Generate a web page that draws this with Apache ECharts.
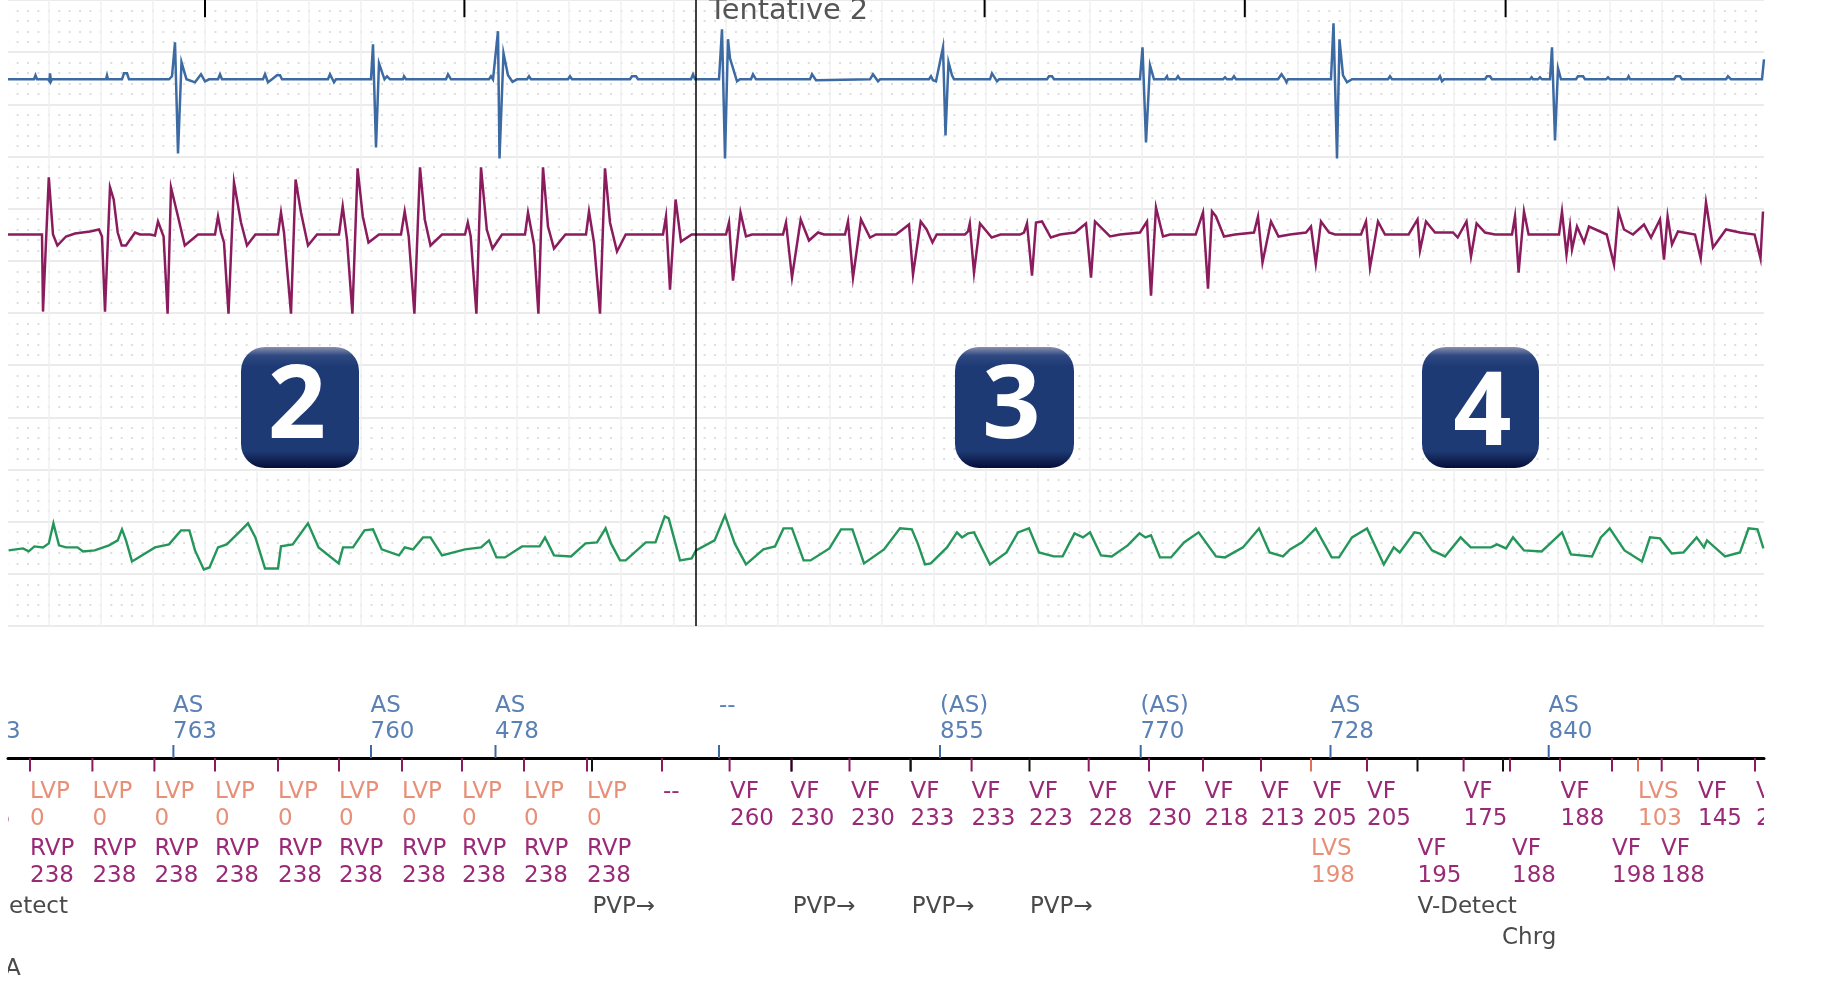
<!DOCTYPE html>
<html><head><meta charset="utf-8">
<style>html,body{margin:0;padding:0;background:#fff}#c{width:1827px;height:1007px;filter:blur(0.6px)}</style>
<script src="https://cdn.jsdelivr.net/npm/echarts@6/dist/echarts.min.js"></script></head>
<body><div id="c"></div>
<script>
// Traces: [time position, amplitude above the channel baseline]
const blueTrace=[[8,0],[34,0],[35.5,4],[37,0],[48,0],[49.5,-2],[50,6],[51,-2],[52,0],[106,0],[107,4],[108,0],[122,0],[124,6],[127,6],[129,0],[169,0],[172,3],[175,37],[178,-74],[181.5,17],[186.5,0],[195,-3],[201,5],[205,-2],[209,0],[218,0],[220,5],[222,0],[263,0],[265,5],[268,-3],[272,0],[277,4],[280,4],[282,0],[328,0],[330,5],[334,-3],[336,0],[371,0],[373,35],[376,-68],[379,16],[384.5,0],[387,3],[390,0],[403,0],[404,3],[406,0],[446,0],[448,5],[451,0],[489,0],[491,3],[493,0],[498,48],[499.5,-79],[503.5,26],[508,4],[512.5,-2.5],[517,0],[527,0],[529,3],[531,0],[568,0],[570,3],[572,0],[630,0],[632,3],[636,3],[638,0],[691,0],[693,5],[695,0],[719,0],[722,50],[725,-79],[728,40],[730,21],[737,-2],[740,0],[751,0],[753,5],[756,0],[810,0],[812,5],[816,-1],[818,0],[870,0],[873,5],[878,-2],[880,0],[929,0],[931,3],[933,-1],[936,-2],[943,32],[945.5,-56],[948.5,17],[952,4],[954,0],[990,0],[992,6],[997,-2],[999,0],[1047,0],[1049,3],[1052,3],[1054,0],[1140,0],[1142.5,32],[1146,-63],[1150,14],[1154,0],[1165,0],[1167,3],[1168,0],[1176,0],[1178,3],[1180,0],[1223,0],[1225,2],[1227,0],[1232,0],[1234,3],[1236,0],[1278,0],[1281.5,5],[1285,0],[1286.5,-3],[1288,0],[1331,0],[1333.5,56],[1337,-79],[1339.5,40],[1343,4],[1347,-3],[1352,0],[1388,0],[1390,3],[1392,0],[1438,0],[1440,3],[1442,-2],[1444,0],[1485,0],[1487,3],[1490,3],[1492,0],[1530,0],[1531.6,2],[1533,0],[1538,0],[1540,2],[1542,0],[1550,0],[1552,32],[1555,-61],[1558,11],[1561,0],[1576,0],[1578,3],[1583,3],[1585,0],[1606,0],[1608,2],[1610,0],[1627,0],[1628.6,3],[1630,0],[1674,0],[1676,3],[1680,3],[1682,0],[1726,0],[1728,3],[1731,0],[1762,0],[1764,20]];
const purpleTrace=[[8,0],[42,0],[43,-77],[48.8,57],[53,0],[57.4,-11],[66,-2],[75,1],[90,3],[99,5],[102,-2],[105,-77],[110,47],[113.7,35],[117.7,2],[121.7,-11],[126,-11],[135,2],[140,0],[150,0],[155,-1],[158,13],[163.6,-2],[167.6,-79],[171,47],[178,18],[184.8,-11],[198,0],[215,0],[218,18],[221,2],[224,-8],[228.5,-79],[234,52],[241,12],[247,-11],[255.4,0],[278,0],[281,22],[284,2],[291,-79],[295.6,55],[301,22],[308,-11],[317,0],[339,0],[342.7,28],[347,-5],[352.4,-79],[357.6,66],[362.8,18],[368.5,-8],[379,0],[401,0],[404.7,23],[408.7,-2],[414.4,-79],[420,67],[424.8,15],[430.5,-11],[442,0],[465,0],[467.8,12],[470.7,-2],[476.4,-79],[481,67],[486.8,5],[492.5,-14],[502,0],[525,0],[528,22],[534,-10],[538.4,-79],[543,67],[548,8],[554,-14],[565.4,0],[586,0],[589,23],[594,-8],[600,-79],[605,66],[610,12],[617,-17],[625.7,0],[663,0],[666,18],[670,-55],[675.6,35],[681,-7],[691.7,0],[726,0],[729,12],[733,-46],[740.5,22],[746,-2],[752,0],[783,0],[786,12],[792,-43],[800.7,15],[809,-6],[818,2],[824,0],[845,0],[848,13],[853,-43],[861,15],[870,-3],[876,0],[896,0],[900,3],[909,10],[913,-40],[920.7,13],[926.6,5],[932.5,-8],[936.7,0],[965,0],[968,3],[969.8,11],[974,-38],[980,11],[991.7,-3],[1000.5,0],[1020,0],[1024,2],[1027,11],[1032,-41],[1036,12],[1042,13],[1050.8,-3],[1060,0],[1075,2],[1086,11],[1091,-43],[1095,13],[1110,-2],[1120,0],[1140,2],[1147,13],[1151,-61],[1156,27],[1163,-2],[1170,0],[1195.7,0],[1203,22],[1208,-54],[1212,23],[1216,18],[1224,-2],[1235,0],[1254,2],[1258,18],[1262.5,-28],[1271,13],[1278.5,-2],[1290,0],[1306,2],[1311,8],[1315.8,-29],[1321,13],[1329,2],[1335,0],[1361,0],[1366,13],[1370,-33],[1378,13],[1385,0],[1408.6,0],[1417.5,15],[1420,-16],[1426,13],[1435,2],[1453,2],[1457.7,-3],[1466.5,13],[1471,-22],[1476.6,11],[1485,2],[1495,0],[1512,0],[1515,18],[1518.6,-38],[1524,23],[1528.6,0],[1559,0],[1562,23],[1566.5,-20],[1570,8],[1572,-15],[1577,8],[1584,-8],[1589,8],[1606.7,0],[1614,-30],[1618.5,23],[1624,5],[1633,0],[1644,10],[1651,-3],[1660,15],[1664,-25],[1667.6,18],[1672,-10],[1678,3],[1695,0],[1700.7,-24],[1706,32],[1713,-13],[1726,5],[1740,2],[1754.6,0],[1760.5,-24],[1763,23]];
const greenTrace=[[8.6,0],[23,2],[28.7,-1],[34.4,4],[43,3],[48.8,7],[53.4,27],[59,5],[66,3],[77.5,3],[83,-1],[94.7,0],[109,5],[117.7,10],[122,21],[126,10],[132,-11],[155,3],[169,6],[181,20],[189.4,20],[195,0],[203.8,-19],[209.5,-17],[218,3],[226.7,6],[241,20],[248,27],[255.4,13],[265,-18],[278,-18],[281,4],[292.7,6],[308,27],[318.6,3],[338.7,-13],[343,3],[353,3],[364.5,20],[373,21],[381.7,1],[399,-5],[404.7,3],[413,1],[423,13],[430.5,13],[442,-5],[465,1],[481,3],[489,10],[496.5,-7],[505,-7],[522,4],[539.6,4],[545,13],[554,-5],[571,-6],[585.5,7],[597,8],[605.6,22],[611,7],[620,-10],[625.7,-10],[645.8,8],[655.5,8],[664.7,34],[668.7,32],[680,-10],[691.7,-8],[696,0],[714.6,10],[725,35],[734.7,7],[746,-14],[763.4,1],[775,4],[783.5,22],[792,22],[803.6,-10],[810.5,-10],[829.4,2],[841,21],[852.4,21],[864,-13],[884,1],[900,22],[911.8,21],[917.7,7],[925,-14],[930.8,-13],[947,3],[957,18],[962,13],[968,17],[974,18],[990,-14],[1006.5,-2],[1018,18],[1029,22],[1039,-2],[1053.8,-6],[1062.6,-6],[1074.5,17],[1083,13],[1090,18],[1101,-5],[1111.7,-6],[1127.7,5],[1139.5,17],[1145.4,13],[1151,15],[1160,-7],[1171,-7],[1184,8],[1198.6,18],[1216,-6],[1225,-7],[1243,3],[1259,22],[1269.6,-2],[1283,-6],[1290,1],[1302,8],[1315.7,22],[1331.7,-7],[1339,-7],[1352,13],[1367,22],[1383.8,-14],[1393.8,3],[1399.7,-2],[1414.5,18],[1420,17],[1432,0],[1445,-6],[1460.6,13],[1470.7,3],[1491,3],[1497,6],[1506,2],[1513,13],[1524,0],[1541.6,-1],[1553.5,10],[1562,18],[1571,-4],[1592,-6],[1600.8,13],[1609.7,22],[1624.5,0],[1642,-11],[1650,13],[1660,12],[1671.8,-3],[1683.6,-2],[1696.6,13],[1704,3],[1707,10],[1725,-6],[1740,-2],[1748.6,22],[1757.5,21],[1763.4,2]];

// Event markers: [time, name, value]
const atrialEvents=[[173,'AS','763'],[370.5,'AS','760'],[495,'AS','478'],[719,'--',''],[940,'(AS)','855'],[1140.5,'(AS)','770'],[1330,'AS','728'],[1548.5,'AS','840']];
const ventricularRow1=[[30,'LVP','0'],[92.4,'LVP','0'],[154.4,'LVP','0'],[215,'LVP','0'],[278,'LVP','0'],[339,'LVP','0'],[402,'LVP','0'],[462,'LVP','0'],[524,'LVP','0'],[587,'LVP','0'],[663,'--',''],[730,'VF','260'],[790.6,'VF','230'],[851,'VF','230'],[910.6,'VF','233'],[971.6,'VF','233'],[1029,'VF','223'],[1088.7,'VF','228'],[1148,'VF','230'],[1204.6,'VF','218'],[1260.7,'VF','213'],[1313,'VF','205'],[1367,'VF','205'],[1463.6,'VF','175'],[1560.6,'VF','188'],[1638,'LVS','103'],[1698,'VF','145'],[1756,'VF','205']];
const ventricularRow2=[[30,'RVP','238'],[92.4,'RVP','238'],[154.4,'RVP','238'],[215,'RVP','238'],[278,'RVP','238'],[339,'RVP','238'],[402,'RVP','238'],[462,'RVP','238'],[524,'RVP','238'],[587,'RVP','238'],[1311,'LVS','198'],[1417.5,'VF','195'],[1512,'VF','188'],[1612,'VF','198'],[1661,'VF','188']];
const statusRow=[[9,'etect'],[592.4,'PVP→'],[792.7,'PVP→'],[911.8,'PVP→'],[1030,'PVP→'],[1417.5,'V-Detect']];
const chargeRow=[[1502,'Chrg']];
const footRow=[[5,'A']];
const ventTicks=[30,92.4,154.4,215,278,339,402,462,524,587,662,729.6,791.5,849.5,910.6,971.6,1088.7,1149,1203,1261,1367,1463.6,1510,1560,1612,1661.7,1698,1755];
const blackTicks=[592,791.5,910.6,1029.5,1417.5,1503];
const salmonTicks=[1311,1638];
const atrialTicks=[173.4,371,495.5,719,940,1140.7,1330.5,1548.7];
const secondMarks=[205,464.4,984.6,1244.8,1505.6];
const sessionMark=[696];
const paperLinesX=[48.8,100.8,152.9,204.9,257,309,361,413.1,465.1,517.2,569.2,621.2,673.3,725.3,777.3,829.4,881.4,933.5,985.5,1037.5,1089.6,1141.6,1193.6,1245.7,1297.7,1349.7,1401.8,1453.8,1505.9,1557.9,1609.9,1662,1714];

const BLUE='#3c6aa3',PURPLE='#8a1c5e',GREEN='#25965a',SALMON='#e88f78',VIOLET='#9a2a78',AS='#5a80b4',INK='#4a4a4a';
const BASE={blue:546,purple:391,green:75.5};
const shift=(t,b)=>t.map(p=>[p[0],b+p[1]]);
const FONT='23px "DejaVu Sans"';
const ROW={as1:-51.5,as2:-25.5,v1:34,v1b:61,v2:91,v2b:118,status:149,chrg:180.5,foot:211};

const texts=[];
const addText=(x,row,text,color)=>texts.push({x,row,text,color});
const colorOf=n=>(n==='LVP'||n==='LVS')?SALMON:VIOLET;
atrialEvents.forEach(e=>{addText(e[0],ROW.as1,e[1],AS);if(e[2])addText(e[0],ROW.as2,e[2],AS);});
ventricularRow1.forEach(e=>{addText(e[0],ROW.v1,e[1],e[1]==='--'?VIOLET:colorOf(e[1]));if(e[2])addText(e[0],ROW.v1b,e[2],colorOf(e[1]));});
ventricularRow2.forEach(e=>{addText(e[0],ROW.v2,e[1],colorOf(e[1]));addText(e[0],ROW.v2b,e[2],colorOf(e[1]));});
statusRow.forEach(e=>addText(e[0],ROW.status,e[1],INK));
chargeRow.forEach(e=>addText(e[0],ROW.chrg,e[1],INK));
footRow.forEach(e=>addText(e[0],ROW.foot,e[1],INK));
addText(6,ROW.as2,'3',AS);
addText(-4,ROW.v1b,'5',VIOLET);

const tickSeg=(xs,y0,y1,color,w,xi,yi)=>({type:'custom',xAxisIndex:xi,yAxisIndex:yi,silent:true,z:4,clip:true,
  data:xs.map(x=>[x]),encode:{x:0},
  renderItem:(p,api)=>{const a=api.coord([api.value(0),y0]),b=api.coord([api.value(0),y1]);
    return {type:'line',shape:{x1:a[0],y1:a[1],x2:b[0],y2:b[1]},style:{stroke:color,lineWidth:w}};}});
const trace=(d,color,w)=>({type:'line',xAxisIndex:0,yAxisIndex:0,data:d,showSymbol:false,silent:true,animation:false,sampling:null,z:3,lineStyle:{color,width:w,join:'miter'},connectNulls:false});

const badge=(x,w,digit,dx,dy)=>([
 {type:'rect',z:20,shape:{x,y:347,width:w,height:121,r:24},style:{fill:{type:'linear',x:0,y:0,x2:0,y2:1,colorStops:[{offset:0,color:'#8a90ae'},{offset:0.07,color:'#2f4a82'},{offset:0.16,color:'#1e3a74'},{offset:0.86,color:'#1e3a74'},{offset:1,color:'#050d38'}]}}},
 {type:'text',z:21,style:{text:digit,x:x+w/2+dx,y:407.5+dy,fill:'#fff',font:'bold 102px "Open Sans"',textAlign:'center',textVerticalAlign:'middle'}}
]);

const chart=echarts.init(document.getElementById('c'),null,{renderer:'canvas'});
chart.setOption({
 animation:false,backgroundColor:'#fff',
 grid:[{left:8,top:0,width:1756,height:626},{left:8,top:626,width:1756,height:381}],
 xAxis:[
  {gridIndex:0,type:'value',min:8,max:1764,axisLabel:{show:false},axisLine:{show:false},
   axisTick:{show:false,customValues:paperLinesX},splitLine:{show:true,lineStyle:{color:'#f0f0f0',width:1.5}}},
  {gridIndex:1,type:'value',min:8,max:1764,axisLabel:{show:false},axisTick:{show:false},splitLine:{show:false},
   axisLine:{show:true,onZero:true,lineStyle:{color:'#000',width:3}}}
 ],
 yAxis:[
  {gridIndex:0,type:'value',min:0,max:625.2,interval:52.1,axisLabel:{show:false},axisLine:{show:false},axisTick:{show:false},
   splitLine:{show:true,lineStyle:{color:'#ebebeb',width:2}},
   minorTick:{show:false,splitNumber:5},
   minorSplitLine:{show:true,lineStyle:{color:'#dedede',width:2,type:[2,8.41],dashOffset:1.8}}},
  {gridIndex:1,type:'value',min:-132,max:249,inverse:true,axisLabel:{show:false},axisLine:{show:false},axisTick:{show:false},splitLine:{show:false}}
 ],
 series:[
  trace(shift(blueTrace,BASE.blue),BLUE,2.5),
  trace(shift(purpleTrace,BASE.purple),PURPLE,2.5),
  trace(shift(greenTrace,BASE.green),GREEN,2.4),
  tickSeg(secondMarks,625.2,608,'#000',2,0,0),
  tickSeg(sessionMark,625.2,0,'#000',1.5,0,0),
  tickSeg(atrialTicks,0,-13,BLUE,2,1,1),
  tickSeg(ventTicks,0,13.5,PURPLE,2,1,1),
  tickSeg(blackTicks,0,13.5,'#111',2,1,1),
  tickSeg(salmonTicks,0,13.5,'#e0705a',2,1,1),
  {type:'custom',xAxisIndex:1,yAxisIndex:1,silent:true,clip:true,z:5,
   data:texts.map(t=>[t.x,t.row]),encode:{x:0,y:1},
   renderItem:(p,api)=>{const c=api.coord([api.value(0),api.value(1)]),t=texts[p.dataIndex];
    return {type:'text',style:{text:t.text,x:c[0],y:c[1],fill:t.color,font:FONT,textAlign:'left',textVerticalAlign:'middle'}};}}
 ],
 graphic:[
  {type:'text',z:15,style:{text:'Tentative 2',x:709,y:12,fill:'#555',font:'28.8px "DejaVu Sans"',textAlign:'left',textVerticalAlign:'middle'}},
  ...badge(241,118,'2',-3,1),
  ...badge(955,119,'3',-3,1),
  ...badge(1422,117,'4',2,8)
 ]
});
</script></body></html>
